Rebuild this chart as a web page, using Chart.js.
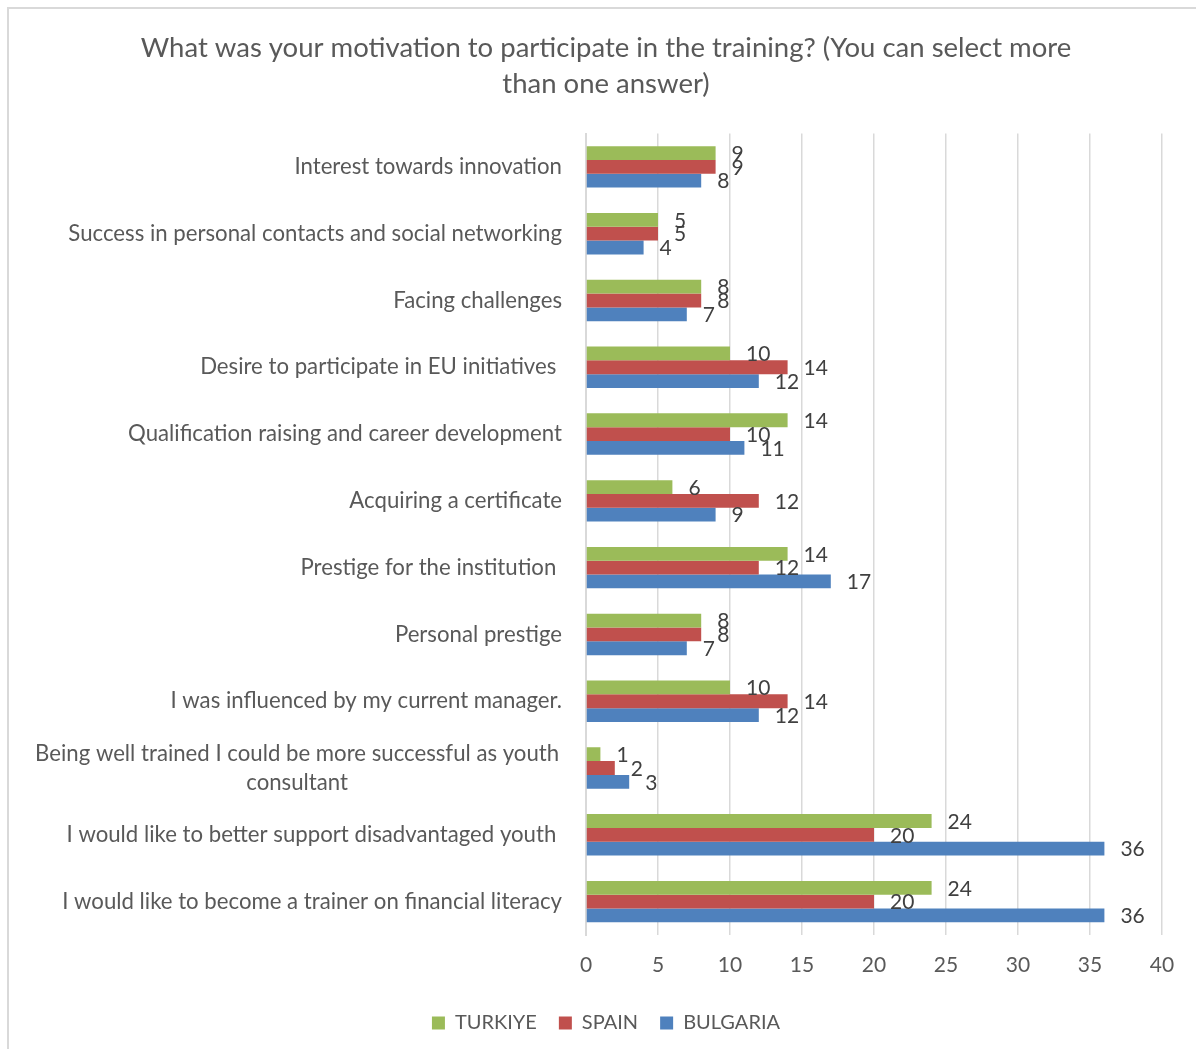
<!DOCTYPE html>
<html>
<head>
<meta charset="utf-8">
<script src="https://cdn.jsdelivr.net/npm/chart.js@4"></script>
<style>
  html, body { margin: 0; padding: 0; background: #fff; overflow: hidden; }
  #frame {
    position: absolute; left: 7px; top: 7px; width: 1300px; height: 1200px;
    border-left: 2px solid #D9D9D9; border-top: 2px solid #D9D9D9;
  }
  #wrap { position: absolute; left: 0; top: 0; width: 1196px; height: 1049px; }
</style>
</head>
<body>
<div id="frame"></div>
<div id="wrap"><canvas id="motivation-chart"></canvas></div>
<script>
var categories = [
    'Interest towards innovation',
    'Success in personal contacts and social networking',
    'Facing challenges',
    'Desire to participate in EU initiatives ',
    'Qualification raising and career development',
    'Acquiring a certificate',
    'Prestige for the institution ',
    'Personal prestige',
    'I was influenced by my current manager.',
    ['Being well trained I could be more successful as youth ', 'consultant'],
    'I would like to better support disadvantaged youth ',
    'I would like to become a trainer on financial literacy'
];
var turkiye  = [9, 5, 8, 10, 14, 6, 14, 8, 10, 1, 24, 24];
var spain    = [9, 5, 8, 14, 10, 12, 12, 8, 14, 2, 20, 20];
var bulgaria = [8, 4, 7, 12, 11, 9, 17, 7, 12, 3, 36, 36];
var xMin = 0, xMax = 40, xStep = 5;

var FONT = 'Lato';
var GREY = '#595959';

// numbers to the right of every bar
var valueLabels = {
    id: 'valueLabels',
    afterDatasetsDraw: function (chart) {
        var ctx = chart.ctx;
        ctx.save();
        ctx.font = '21px ' + FONT;
        ctx.fillStyle = '#404040';
        ctx.textAlign = 'left';
        ctx.textBaseline = 'middle';
        chart.data.datasets.forEach(function (ds, i) {
            chart.getDatasetMeta(i).data.forEach(function (bar, j) {
                ctx.fillText(String(ds.data[j]), bar.x + 16, bar.y + 1);
            });
        });
        ctx.restore();
    }
};

// category names, right aligned; wrapped names are centred on their block
var categoryLabels = {
    id: 'categoryLabels',
    afterDraw: function (chart) {
        var ctx = chart.ctx;
        var scale = chart.scales.y;
        var right = scale.right - 24;
        var lineH = 29;
        ctx.save();
        ctx.font = '22.2px ' + FONT;
        ctx.fillStyle = GREY;
        ctx.textBaseline = 'middle';
        chart.data.labels.forEach(function (label, i) {
            var y = scale.getPixelForTick(i);
            if (Array.isArray(label)) {
                var w = Math.max.apply(null, label.map(function (t) { return ctx.measureText(t).width; }));
                ctx.textAlign = 'center';
                label.forEach(function (t, k) {
                    ctx.fillText(t.trim(), right - w / 2, y + (k - (label.length - 1) / 2) * lineH);
                });
            } else {
                ctx.textAlign = 'right';
                ctx.fillText(label, right, y);
            }
        });
        ctx.restore();
    }
};

var ctx = document.getElementById('motivation-chart').getContext('2d');

var chart = new Chart(ctx, {
    type: 'bar',
    data: {
        labels: categories,
        datasets: [{
            label: 'TURKIYE',
            backgroundColor: '#9BBB59',
            data: turkiye
        }, {
            label: 'SPAIN',
            backgroundColor: '#C0504D',
            data: spain
        }, {
            label: 'BULGARIA',
            backgroundColor: '#4F81BD',
            data: bulgaria
        }]
    },
    options: {
        indexAxis: 'y',
        responsive: true,
        maintainAspectRatio: false,
        animation: false,
        categoryPercentage: 0.62,
        barPercentage: 1,
        layout: { padding: { left: 50, right: 34, top: 0, bottom: 6 } },
        scales: {
            x: {
                min: xMin,
                max: xMax,
                ticks: { stepSize: xStep, padding: 18, color: GREY, font: { family: FONT, size: 21 } },
                grid: { color: '#D9D9D9', lineWidth: 1.5, drawTicks: false },
                border: { display: false },
                afterFit: function (scale) { scale.height = 56; }
            },
            y: {
                ticks: { display: false },
                grid: { display: false },
                border: { display: true, color: '#D9D9D9', width: 2 },
                afterFit: function (scale) { scale.width = 536; }
            }
        },
        plugins: {
            title: {
                display: true,
                text: ['What was your motivation to participate in the training? (You can select more', 'than one answer)'],
                color: GREY,
                font: { family: FONT, size: 27.5, weight: 'normal', lineHeight: 1.3 },
                padding: { top: 30, bottom: 32 }
            },
            legend: {
                position: 'bottom',
                labels: {
                    boxWidth: 13,
                    boxHeight: 13,
                    padding: 22,
                    color: GREY,
                    font: { family: FONT, size: 20 }
                }
            },
            tooltip: { enabled: false }
        }
    },
    plugins: [valueLabels, categoryLabels]
});
</script>
</body>
</html>
